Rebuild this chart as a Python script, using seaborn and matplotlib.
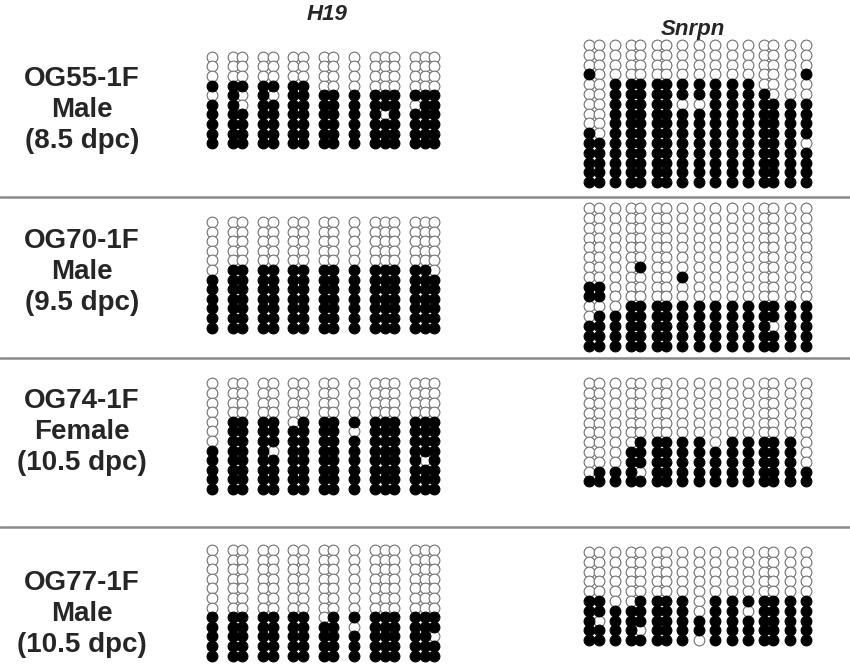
import matplotlib
matplotlib.use("Agg")
import matplotlib.pyplot as plt
import pandas as pd
import seaborn as sns

# samples (rows of the figure) and genes (columns of the figure)
SAMPLE_LABELS = [
    "OG55-1F\nMale\n(8.5 dpc)",
    "OG70-1F\nMale\n(9.5 dpc)",
    "OG74-1F\nFemale\n(10.5 dpc)",
    "OG77-1F\nMale\n(10.5 dpc)",
]
GENES = ["H19", "Snrpn"]

# CpG sites grouped as they are spaced along each amplicon
H19_GROUPS = [1, 2, 2, 2, 2, 1, 3, 3]
SNRPN_GROUPS = [2, 1, 2, 2, 1, 1, 1, 1, 1, 2, 1, 1]

# one string per clone, one char per CpG: 1 = methylated, 0 = unmethylated
H19_OG55 = [
    "0000000000000000",
    "0000000000000000",
    "0000000000000000",
    "1111111000000000",
    "0101011111111111",
    "1101111111111011",
    "1111111111101111",
    "1111111111111111",
    "1111111111111111",
    "1111111111111111",
]
H19_OG70 = [
    "0000000000000000",
    "0000000000000000",
    "0000000000000000",
    "0000000000000000",
    "0000000000000000",
    "0111111111111110",
    "1111111111111111",
    "1111111111111111",
    "1111111111111111",
    "1111111111111111",
    "1111111111111111",
    "1111111111111111",
]
H19_OG74 = [
    "0000000000000000",
    "0000000000000000",
    "0000000000000000",
    "0000000000000000",
    "0111101111111111",
    "0111111110111111",
    "0111111111111111",
    "1111011111111111",
    "1111111111111101",
    "1111111111111111",
    "1111111111111111",
    "1111111111111111",
]
H19_OG77 = [
    "0000000000000000",
    "0000000000000000",
    "0000000000000000",
    "0000000000000000",
    "0000000000000000",
    "0000000000000000",
    "0000000000000000",
    "1111111011111111",
    "1111111110111111",
    "1111111111111110",
    "1111111111111111",
    "1111111111111111",
]

SNRPN_OG55 = [
    "0000000000000000",
    "0000000000000000",
    "0000000000000000",
    "1000000000000001",
    "0011111111110000",
    "0011111111111000",
    "0011111001111111",
    "0011111111111111",
    "0011111111111111",
    "1011111111111111",
    "1111111111111110",
    "1111111111111111",
    "1111111111111111",
    "1111111111111111",
    "1111111111111111",
]
SNRPN_OG70 = [
    "0000000000000000",
    "0000000000000000",
    "0000000000000000",
    "0000000000000000",
    "0000000000000000",
    "0000000000000000",
    "0000100000000000",
    "0000000100000000",
    "1100000000000000",
    "1100000000000000",
    "0001111111111111",
    "0111111111111111",
    "1111111111111011",
    "1111111111111111",
    "1111111111111111",
]
SNRPN_OG74 = [
    "0000000000000000",
    "0000000000000000",
    "0000000000000000",
    "0000000000000000",
    "0000000000000000",
    "0000000000000000",
    "0000111110111110",
    "0001111111111110",
    "0001111111111110",
    "0111011111111111",
    "1111111111111111",
]
SNRPN_OG77 = [
    "0000000000000000",
    "0000000000000000",
    "0000000000000000",
    "0000000000000000",
    "0000000000000000",
    "1100111101111111",
    "1111111101101111",
    "1011111111111111",
    "1111011111111111",
    "1111111101111111",
]

PANELS = {
    "H19": [H19_OG55, H19_OG70, H19_OG74, H19_OG77],
    "Snrpn": [SNRPN_OG55, SNRPN_OG70, SNRPN_OG74, SNRPN_OG77],
}

# layout, in pixels of the 850x665 output
W, H = 850, 665
LAYOUT = {
    "H19": dict(groups=H19_GROUPS, x0=211.7, dx=9.5, dy=9.6, gap=2.2,
                tops=[56.7, 222.0, 383.3, 550.0], title_xy=(327, 20)),
    "Snrpn": dict(groups=SNRPN_GROUPS, x0=589.3, dx=9.2, dy=9.8, gap=1.78,
                  tops=[45.0, 208.3, 383.3, 552.0], title_xy=(693, 35)),
}
LABEL_X = 82
LABEL_Y = [110, 272, 432, 614]
SEPARATORS = [197, 358, 527]
PAD = 1.0
DOT_SIZE = 60


def cpg_positions(groups, gap):
    pos, out = 0.0, []
    for size in groups:
        for _ in range(size):
            out.append(pos)
            pos += 1
        pos += gap - 1
    return out


def panel_frame(rows, xs):
    recs = []
    for i, row in enumerate(rows):
        for j, ch in enumerate(row):
            recs.append({"site": xs[j], "clone": i, "meth": int(ch)})
    return pd.DataFrame(recs)


def draw_panel(fig, rows, lay, top):
    xs = cpg_positions(lay["groups"], lay["gap"])
    n = len(rows)
    width_u = xs[-1] - xs[0] + 2 * PAD
    height_u = n - 1 + 2 * PAD
    left_px = lay["x0"] - PAD * lay["dx"]
    top_px = top - PAD * lay["dy"]
    w_px = width_u * lay["dx"]
    h_px = height_u * lay["dy"]
    ax = fig.add_axes([left_px / W, 1 - (top_px + h_px) / H, w_px / W, h_px / H])
    df = panel_frame(rows, xs)
    sns.scatterplot(data=df[df["meth"] == 0], x="site", y="clone", ax=ax,
                    color="white", edgecolor="#707070", linewidth=0.8,
                    s=DOT_SIZE, clip_on=False, legend=False)
    sns.scatterplot(data=df[df["meth"] == 1], x="site", y="clone", ax=ax,
                    color="black", edgecolor="black", linewidth=0.8,
                    s=DOT_SIZE, clip_on=False, legend=False)
    ax.set_xlim(xs[0] - PAD, xs[-1] + PAD)
    ax.set_ylim(n - 1 + PAD, -PAD)
    ax.set_axis_off()


def main():
    sns.set_style("white")
    plt.rcParams["font.family"] = ["Liberation Sans", "DejaVu Sans"]

    fig = plt.figure(figsize=(W / 100, H / 100), dpi=100)

    bg = fig.add_axes([0, 0, 1, 1])
    bg.set_xlim(0, W)
    bg.set_ylim(H, 0)
    bg.set_axis_off()
    for y in SEPARATORS:
        bg.axhline(y, color="#8a8a8a", linewidth=1.8)

    for gene in GENES:
        lay = LAYOUT[gene]
        for rows, top in zip(PANELS[gene], lay["tops"]):
            draw_panel(fig, rows, lay, top)
        tx, ty = lay["title_xy"]
        fig.text(tx / W, 1 - ty / H, gene, ha="center", va="baseline",
                 fontsize=16, fontweight="bold", fontstyle="italic", zorder=10)

    for label, y in zip(SAMPLE_LABELS, LABEL_Y):
        bg.text(LABEL_X, y, label, ha="center", va="center", fontsize=20,
                fontweight="bold", linespacing=1.24, multialignment="center")

    fig.savefig("out.png", dpi=100)


if __name__ == "__main__":
    main()
